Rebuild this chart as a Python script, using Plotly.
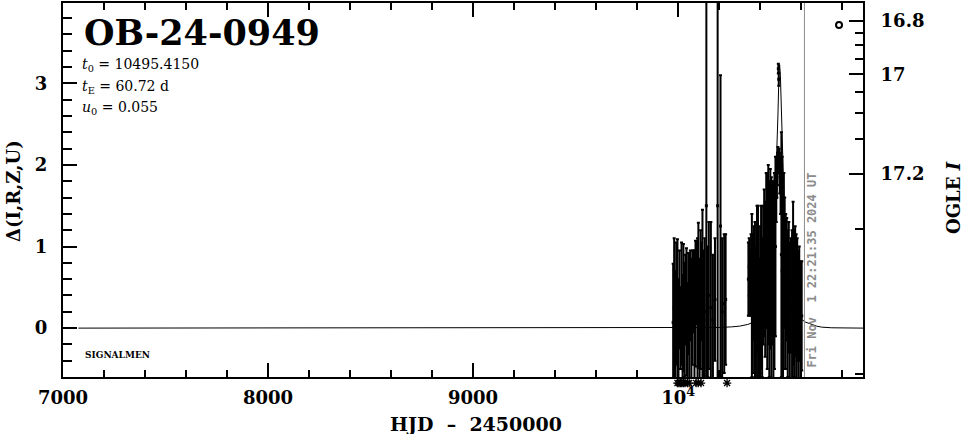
import plotly.graph_objects as go

# ---------------- data ----------------
# photometry: HJD-2450000, Delta flux, error
obs_hjd = [9976, 9981, 9986, 9991, 9997, 10002, 10007, 10012, 10017, 10022,
           10026, 10031, 10036, 10041, 10046, 10050, 10055, 10060, 10065, 10070,
           10075, 10080, 10085, 10090, 10095, 10099, 10105, 10110, 10115, 10119,
           10125, 10130, 10138, 10145, 10150, 10160, 10170, 10180, 10193, 10207,
           10215, 10225, 10232,
           10343, 10347, 10351, 10356, 10360, 10365, 10370, 10375, 10380, 10385,
           10390, 10395, 10400, 10405, 10410, 10415, 10420, 10425, 10430, 10435,
           10440, 10445, 10450, 10455, 10460, 10465, 10470, 10475, 10479, 10482,
           10485, 10487, 10489, 10491, 10493, 10496, 10500, 10504, 10508, 10512,
           10516, 10520, 10525, 10530, 10535, 10540, 10545, 10550, 10556, 10561,
           10566, 10571, 10576, 10581, 10586, 10591, 10596, 10603]
obs_delta = [0.07, 0.25, -0.05, 0.30, 0.15, -0.10, 0.35, 0.00, 0.30, -0.05,
             0.25, 0.10, 0.35, 0.20, -0.10, 0.30, 0.15, 0.40, 0.05, 0.25,
             0.45, 0.10, 0.30, 0.55, 0.20, 0.40, 0.05, 0.35, 0.45, 0.40,
             0.10, 0.20, 1.50, 0.20, 0.40, 0.25, 0.10, 0.35, 1.50, 1.25,
             0.20, 0.30, 0.35,
             0.60, 0.75, 0.55, 0.65, 0.40, 0.30, 0.55, 0.35, 0.20, 0.60,
             0.45, 0.10, 0.35, 0.50, 0.25, 0.65, 0.80, 0.60, 0.95, 0.70,
             0.90, 0.60, 0.85, 0.55, 0.80, 0.50, 0.70, 1.00, 1.60, 1.85,
             1.95, 2.10, 3.18, 3.05, 2.05, 1.90, 1.75, 0.90, 0.70, 0.60,
             0.70, 0.80, 0.45, 0.60, 0.30, 0.50, 0.20, 0.40, 0.25, 0.55,
             0.30, 0.45, 0.20, 0.35, 0.15, 0.30, 0.10, 0.15]
obs_err = [0.72, 0.85, 0.75, 0.75, 0.94, 0.70, 0.60, 0.50, 0.75, 0.70,
           0.78, 0.70, 0.55, 0.78, 0.65, 0.62, 0.76, 0.55, 0.80, 0.70,
           0.50, 0.85, 0.77, 0.50, 0.90, 0.89, 0.80, 0.85, 0.60, 1.05,
           0.85, 0.90, 3.50, 0.80, 0.90, 1.05, 0.80, 0.75, 3.50, 1.85,
           0.90, 0.85, 0.80,
           0.45, 0.35, 0.40, 0.50, 1.00, 0.85, 0.70, 0.95, 0.80, 0.90,
           1.05, 0.75, 0.90, 1.00, 0.85, 0.85, 0.90, 0.95, 0.95, 1.20,
           1.10, 1.20, 1.10, 1.30, 1.00, 1.30, 1.20, 1.10, 0.30, 0.25,
           0.20, 0.12, 0.06, 0.08, 0.15, 0.25, 0.35, 1.50, 1.40, 1.30,
           1.20, 0.80, 0.95, 0.75, 0.90, 0.80, 0.85, 0.70, 0.95, 1.00,
           0.90, 0.80, 0.95, 0.75, 0.80, 0.70, 0.72, 0.67]

# model curve
model_hjd = [7075, 9900, 10100, 10200, 10260, 10300, 10340, 10367, 10400, 10425,
             10445, 10460, 10470, 10480, 10487, 10492, 10495.4, 10499, 10504, 10511,
             10520, 10530, 10545, 10565, 10591, 10620, 10650, 10675, 10700, 10750,
             10902]
model_delta = [0.0, 0.0, 0.003, 0.008, 0.015, 0.024, 0.045, 0.07, 0.13, 0.28,
               0.50, 0.85, 1.30, 2.00, 2.60, 3.10, 3.23, 3.10, 2.60, 2.00,
               1.30, 0.85, 0.50, 0.28, 0.13, 0.075, 0.045, 0.025, 0.012, 0.004,
               0.0]

# asterisks in the strip below the frame
star_hjd = [9997, 10004, 10011, 10018, 10026, 10034, 10046, 10054, 10088, 10098, 10112, 10239]
star_row = [0.5] * len(star_hjd)

# open circle near the top right
circ_hjd = [10785]
circ_delta = [3.716]

now_hjd = 10616.43
now_label = "Fri Nov  1 22:21:35 2024 UT"

x_tickvals = [7000, 8000, 9000, 10000]
x_ticktext = ["7000", "8000", "9000", "10<sup>4</sup>"]
y_tickvals = [0, 1, 2, 3]
# right axis: OGLE I magnitudes placed on the Delta scale
mag_tickvals = [3.765, 3.110, 1.890]
mag_ticktext = ["16.8", "17", "17.2"]
mag_minorvals = [3.618, 3.472, 3.293, 2.899, 2.634, 2.322, 1.220, -0.565]

event_name = "OB-24-0949"
param_lines = ["<i>t</i><sub>0</sub> = 10495.4150", "<i>t</i><sub>E</sub> = 60.72 d",
               "<i>u</i><sub>0</sub> = 0.055"]

# ---------------- figure ----------------
W, H = 966, 434
FRAME_BOTTOM = 377          # pixel row of the lower frame line
STRIP = 12                  # strip under the frame that holds the asterisks
ML, MR, MT, MB = 63, 103, 1, H - FRAME_BOTTOM - STRIP
XR = [7000, 10902]
YR = [-0.6, 3.985]
SERIF = "DejaVu Serif"

PH = H - MT - MB
DOM0 = STRIP / PH


def fx(px):
    return (px - ML) / (W - ML - MR)


def fy(py):
    return (H - MB - py) / PH


fig = go.Figure()

fig.add_trace(go.Scatter(
    x=model_hjd, y=model_delta, mode="lines",
    line=dict(color="black", width=1), hoverinfo="skip", showlegend=False))

fig.add_trace(go.Scatter(
    x=obs_hjd, y=obs_delta, mode="markers",
    marker=dict(color="black", size=3, symbol="square"),
    error_y=dict(type="data", array=obs_err, visible=True, color="black",
                 thickness=2, width=1.5),
    showlegend=False))

fig.add_trace(go.Scatter(
    x=circ_hjd, y=circ_delta, mode="markers",
    marker=dict(symbol="circle-open", size=6, color="black",
                line=dict(color="black", width=2)),
    showlegend=False))

fig.add_trace(go.Scatter(
    x=star_hjd, y=star_row, xaxis="x", yaxis="y3", mode="markers",
    marker=dict(symbol="asterisk-open", size=7, color="black",
                line=dict(color="black", width=1.3)),
    showlegend=False))

# invisible trace for the right axis
fig.add_trace(go.Scatter(x=[XR[0]], y=[YR[0]], yaxis="y2", mode="markers",
                         marker=dict(opacity=0), hoverinfo="skip", showlegend=False))

fig.add_shape(type="line", x0=now_hjd, x1=now_hjd, y0=YR[0], y1=YR[1],
              xref="x", yref="y", line=dict(color="#8c8c8c", width=1))

fig.update_layout(
    width=W, height=H,
    margin=dict(l=ML, r=MR, t=MT, b=MB),
    paper_bgcolor="white", plot_bgcolor="rgba(0,0,0,0)",
    font=dict(family=SERIF, color="black"),
    xaxis=dict(
        range=XR, showgrid=False, zeroline=False, anchor="y",
        showline=True, linecolor="black", linewidth=2, mirror="ticks",
        ticks="inside", ticklen=14, tickwidth=2, tickcolor="black",
        tickmode="array", tickvals=x_tickvals, ticktext=x_ticktext,
        tickfont=dict(family=SERIF, size=18, color="black", weight="bold"),
        ticklabelstandoff=3,
        minor=dict(dtick=200, tick0=7000, ticks="inside", ticklen=7,
                   tickwidth=2, tickcolor="black", showgrid=False),
    ),
    yaxis=dict(
        domain=[DOM0, 1], range=YR, showgrid=False, zeroline=False,
        showline=True, linecolor="black", linewidth=2, mirror=False,
        ticks="inside", ticklen=14, tickwidth=2, tickcolor="black",
        tickmode="array", tickvals=y_tickvals,
        tickfont=dict(family=SERIF, size=18, color="black", weight="bold"),
        ticklabelstandoff=10,
        minor=dict(dtick=0.2, tick0=0, ticks="inside", ticklen=9,
                   tickwidth=2, tickcolor="black", showgrid=False),
    ),
    yaxis2=dict(
        domain=[DOM0, 1], overlaying="y", side="right", range=YR,
        showgrid=False, zeroline=False, anchor="x",
        showline=True, linecolor="black", linewidth=2,
        ticks="inside", ticklen=14, tickwidth=2, tickcolor="black",
        tickmode="array", tickvals=mag_tickvals, ticktext=mag_ticktext,
        tickfont=dict(family=SERIF, size=18, color="black", weight="bold"),
        ticklabelstandoff=12,
        minor=dict(tickmode="array", tickvals=mag_minorvals, ticks="inside",
                   ticklen=8, tickwidth=2, tickcolor="black", showgrid=False),
    ),
    yaxis3=dict(domain=[0, DOM0], range=[0, 1], visible=False, anchor="x",
                fixedrange=True),
)

ann = []
ann.append(dict(x=fx(82), y=fy(31), xref="paper", yref="paper", text=event_name,
                xanchor="left", yanchor="middle", showarrow=False,
                font=dict(family=SERIF, size=35, color="black", weight="bold")))
for txt, py in zip(param_lines, [63, 85, 107]):
    ann.append(dict(x=fx(80), y=fy(py), xref="paper", yref="paper", text=txt,
                    xanchor="left", yanchor="middle", showarrow=False,
                    font=dict(family=SERIF, size=14, color="black")))
ann.append(dict(x=fx(83), y=fy(355), xref="paper", yref="paper", text="SIGNALMEN",
                xanchor="left", yanchor="middle", showarrow=False,
                font=dict(family=SERIF, size=9, color="black", weight="bold")))
ann.append(dict(x=fx(476), y=fy(424), xref="paper", yref="paper",
                text="HJD  \u2013  2450000", xanchor="center", yanchor="middle",
                showarrow=False,
                font=dict(family=SERIF, size=19, color="black", weight="bold")))
ann.append(dict(x=fx(13), y=fy(190), xref="paper", yref="paper",
                text="\u0394(I,R,Z,U)", textangle=-90, xanchor="center",
                yanchor="middle", showarrow=False,
                font=dict(family=SERIF, size=18, color="black", weight="bold")))
ann.append(dict(x=fx(954), y=fy(197), xref="paper", yref="paper",
                text="OGLE <i>I</i>", textangle=-90, xanchor="center",
                yanchor="middle", showarrow=False,
                font=dict(family=SERIF, size=18, color="black", weight="bold")))
ann.append(dict(x=fx(812), y=fy(270), xref="paper", yref="paper",
                text=now_label, textangle=-90, xanchor="center",
                yanchor="middle", showarrow=False,
                font=dict(family="DejaVu Sans Mono", size=12, color="#8c8c8c",
                          weight="bold")))
fig.update_layout(annotations=ann)

fig.write_html("out.html", config={"displayModeBar": False},
               post_script="document.body.style.margin='0';document.body.style.padding='0';")
